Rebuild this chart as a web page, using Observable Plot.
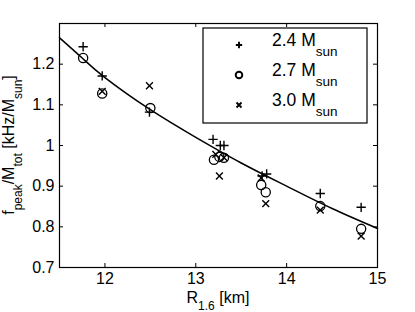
<!DOCTYPE html>
<html><head><meta charset="utf-8">
<script src="https://cdn.jsdelivr.net/npm/d3@7"></script>
<script src="https://cdn.jsdelivr.net/npm/@observablehq/plot@0.6"></script>
<style>body{margin:0;background:#fff} svg{font-family:"Liberation Sans",Arial,sans-serif}</style>
</head><body><div id="chart"></div>
<script>
// tick values
const xTicks = [12, 13, 14, 15];
const yTicks = [0.7, 0.8, 0.9, 1, 1.1, 1.2];
// series: R_1.6 [km] and f_peak/M_tot [kHz/M_sun]
const r24 = [11.76, 11.97, 12.49, 13.19, 13.27, 13.31, 13.73, 13.78, 14.37, 14.82];
const f24 = [1.243, 1.171, 1.082, 1.015, 1.000, 1.000, 0.925, 0.930, 0.882, 0.848];
const r27 = [11.76, 11.97, 12.50, 13.20, 13.26, 13.31, 13.72, 13.77, 14.37, 14.82];
const f27 = [1.215, 1.128, 1.092, 0.965, 0.972, 0.970, 0.903, 0.885, 0.851, 0.795];
const r30 = [11.97, 12.49, 13.22, 13.26, 13.31, 13.72, 13.77, 14.37, 14.82];
const f30 = [1.133, 1.147, 0.978, 0.925, 0.970, 0.920, 0.857, 0.841, 0.777];
// fit curve
const fitR = [11.5, 11.75, 12, 12.5, 13, 13.5, 14, 14.5, 15];
const fitF = [1.265, 1.215, 1.167, 1.088, 1.020, 0.957, 0.900, 0.845, 0.796];
const legendLabels = ["2.4", "2.7", "3.0"];

const W = 415, H = 312, ml = 59, mr = 38, mt = 23, mb = 45;
const ph = H - mt - mb, pw = W - ml - mr, tl = 4;

const pts = (rs, fs) => rs.map((r, i) => ({r, f: fs[i]}));
const fit = pts(fitR, fitF);

const plot = Plot.plot({
  width: W, height: H,
  marginLeft: ml, marginRight: mr, marginTop: mt, marginBottom: mb,
  style: {fontSize: "16px", fontFamily: "Liberation Sans, Arial, sans-serif", background: "#fff"},
  x: {domain: [11.5, 15]},
  y: {domain: [0.7, 1.3]},
  marks: [
    Plot.line(fit, {x: "r", y: "f", curve: "natural", stroke: "black", strokeWidth: 1.5}),
    Plot.dot(pts(r24, f24), {x: "r", y: "f", symbol: "plus", r: 3.1, stroke: "black", strokeWidth: 1.4}),
    Plot.dot(pts(r27, f27), {x: "r", y: "f", symbol: "circle", r: 4.6, stroke: "black", strokeWidth: 1.3, fill: "none"}),
    Plot.dot(pts(r30, f30), {x: "r", y: "f", symbol: "times", r: 3.2, stroke: "black", strokeWidth: 1.4}),
    Plot.tickX(xTicks, {x: d => d, insetTop: ph - tl, stroke: "black"}),
    Plot.tickX(xTicks, {x: d => d, insetBottom: ph - tl, stroke: "black"}),
    Plot.tickY(yTicks, {y: d => d, insetRight: pw - tl, stroke: "black"}),
    Plot.tickY(yTicks, {y: d => d, insetLeft: pw - tl, stroke: "black"}),
    Plot.axisX(xTicks, {tickSize: 0, tickPadding: 5, label: null, fontSize: 16}),
    Plot.axisY(yTicks, {tickSize: 0, tickPadding: 5, label: null, fontSize: 16, tickFormat: d => String(d)}),
    Plot.frame({stroke: "black", strokeWidth: 1.2})
  ]
});
document.getElementById("chart").appendChild(plot);

const svg = d3.select(plot);
// x label
const xl = svg.append("text").attr("x", 218).attr("y", 303).attr("text-anchor", "middle").style("font-size", "16px").attr("fill", "black");
xl.append("tspan").text("R");
xl.append("tspan").attr("dy", 7).style("font-size", "12px").text("1.6");
xl.append("tspan").attr("dy", -7).text(" [km]");
// y label
const yl = svg.append("text").attr("transform", "translate(14,145) rotate(-90)").attr("text-anchor", "middle").style("font-size", "16px").attr("fill", "black");
yl.append("tspan").text("f");
yl.append("tspan").attr("dy", 8).style("font-size", "12px").text("peak");
yl.append("tspan").attr("dy", -8).text("/M");
yl.append("tspan").attr("dy", 8).style("font-size", "12px").text("tot");
yl.append("tspan").attr("dy", -8).text(" [kHz/M");
yl.append("tspan").attr("dy", 8).style("font-size", "12px").text("sun");
yl.append("tspan").attr("dy", -8).text("]");

// legend
const lg = svg.append("g");
lg.append("rect").attr("x", 203).attr("y", 28).attr("width", 164).attr("height", 95).attr("fill", "white").attr("stroke", "black").attr("stroke-width", 1.2);
const syms = [d3.symbolPlus, d3.symbolCircle, d3.symbolTimes];
const sizes = [15, 34, 18];
legendLabels.forEach((lab, i) => {
  const y = 46 + i * 30;
  lg.append("path").attr("d", d3.symbol(syms[i], sizes[i])()).attr("transform", `translate(239,${y - 1})`)
    .attr("fill", "none").attr("stroke", "black").attr("stroke-width", 1.9);
  const t = lg.append("text").attr("x", 272).attr("y", y).attr("text-anchor", "start").style("font-size", "17.5px").attr("fill", "black");
  t.append("tspan").text(lab + " M");
  t.append("tspan").attr("dy", 10).style("font-size", "13.5px").text("sun");
});
</script></body></html>
